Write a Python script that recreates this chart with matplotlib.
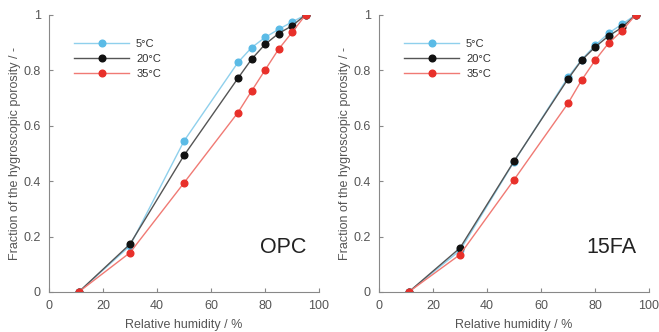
import matplotlib
matplotlib.use("Agg")
import matplotlib.pyplot as plt
from matplotlib.ticker import FuncFormatter

plt.rcParams['font.family'] = ['Liberation Sans', 'DejaVu Sans']

rh = [11, 30, 50, 70, 75, 80, 85, 90, 95]
labels = ["5°C", "20°C", "35°C"]

opc_5 = [0, 0.167, 0.545, 0.829, 0.882, 0.919, 0.948, 0.975, 1.0]
opc_20 = [0, 0.173, 0.493, 0.772, 0.840, 0.894, 0.933, 0.961, 1.0]
opc_35 = [0, 0.142, 0.394, 0.648, 0.725, 0.801, 0.876, 0.937, 1.0]

fa_5 = [0, 0.150, 0.470, 0.775, 0.838, 0.890, 0.934, 0.967, 1.0]
fa_20 = [0, 0.159, 0.472, 0.769, 0.836, 0.884, 0.924, 0.955, 1.0]
fa_35 = [0, 0.135, 0.405, 0.681, 0.764, 0.836, 0.898, 0.943, 1.0]

line_colors = ["#8fd0ec", "#555555", "#f07a74"]
marker_colors = ["#5bbbe6", "#111111", "#e8302a"]
x_ticks = [0, 20, 40, 60, 80, 100]
y_ticks = [0, 0.2, 0.4, 0.6, 0.8, 1.0]

fig = plt.figure(figsize=(6.59, 3.32), dpi=100)
ax1 = fig.add_axes([49/659, 1-292/332, 270/659, 277/332])
ax2 = fig.add_axes([379/659, 1-292/332, 270/659, 277/332])

def yfmt(v, p):
    if abs(v) < 1e-9:
        return "0"
    if abs(v-1) < 1e-9:
        return "1"
    return f"{v:.1f}"

for ax, series, name in [(ax1, [opc_5, opc_20, opc_35], "OPC"),
                         (ax2, [fa_5, fa_20, fa_35], "15FA")]:
    for s, lab, lc, mc in zip(series, labels, line_colors, marker_colors):
        ax.plot(rh, s, color=lc, lw=1.0, marker='o', ms=4.8,
                markerfacecolor=mc, markeredgecolor=mc, label=lab)
    ax.set_xlim(0, 100)
    ax.set_ylim(0, 1)
    ax.set_xticks(x_ticks)
    ax.set_yticks(y_ticks)
    ax.yaxis.set_major_formatter(FuncFormatter(yfmt))
    for sp in ['top', 'right']:
        ax.spines[sp].set_visible(False)
    for sp in ['left', 'bottom']:
        ax.spines[sp].set_color('#888888')
        ax.spines[sp].set_linewidth(0.8)
    ax.tick_params(direction='in', length=3, width=0.8, color='#888888',
                   labelcolor='#555555', labelsize=9, pad=6)
    ax.set_xlabel("Relative humidity / %", color='#555555', fontsize=9, labelpad=5)
    ax.set_ylabel("Fraction of the hygroscopic porosity / -", color='#555555',
                  fontsize=9, labelpad=2)
    ax.text(0.955, 0.159, name, transform=ax.transAxes, ha='right', va='center',
            fontsize=15.5, color='#222222')
    leg = ax.legend(loc='upper left', bbox_to_anchor=(0.055, 0.95), frameon=False,
                    fontsize=8, handlelength=5.0, labelspacing=0.45,
                    handletextpad=0.6)
    for t in leg.get_texts():
        t.set_color('#333333')

fig.savefig("out.png", dpi=100)
